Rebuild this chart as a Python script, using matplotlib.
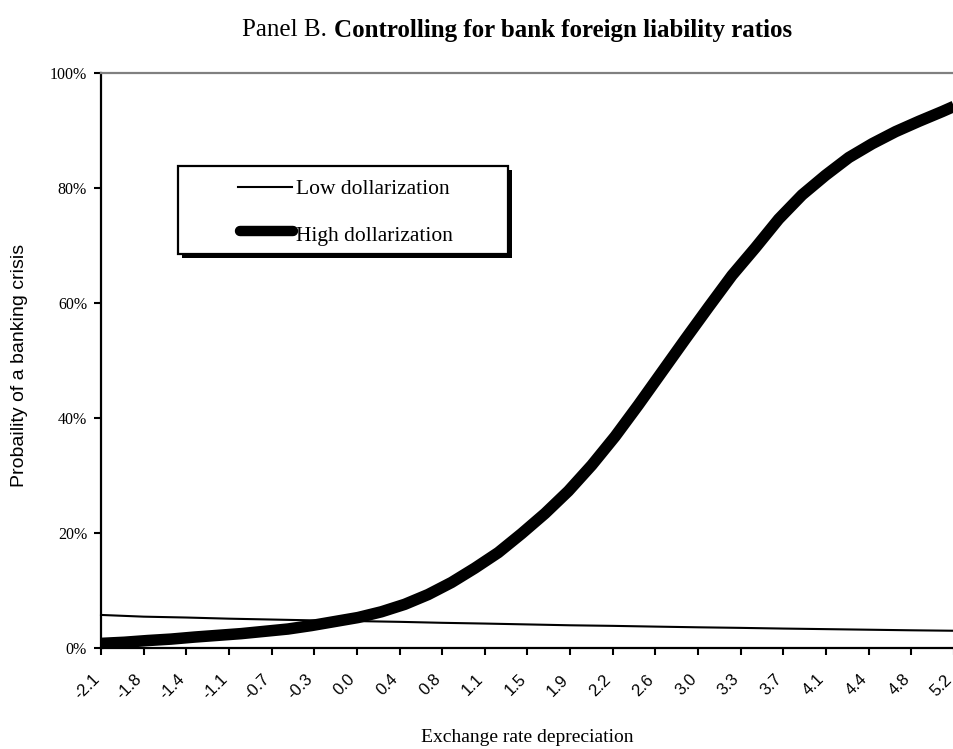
import matplotlib
matplotlib.use("Agg")
import matplotlib.pyplot as plt
from matplotlib.lines import Line2D
from matplotlib.patches import Rectangle
from matplotlib.transforms import ScaledTranslation
import numpy as np

# ---------------- data ----------------
title_regular = "Panel B. "
title_bold = "Controlling for bank foreign liability ratios"
x_label = "Exchange rate depreciation"
y_label = "Probaility of a banking crisis"

x_tick_labels = ["-2.1", "-1.8", "-1.4", "-1.1", "-0.7", "-0.3", "0.0", "0.4", "0.8", "1.1",
                 "1.5", "1.9", "2.2", "2.6", "3.0", "3.3", "3.7", "4.1", "4.4", "4.8", "5.2"]
y_ticks = [0.0, 0.2, 0.4, 0.6, 0.8, 1.0]
y_tick_labels = ["0%", "20%", "40%", "60%", "80%", "100%"]

# Low dollarization (read at each tick position)
low_x = [-2.1, -1.735, -1.37, -1.005, -0.64, -0.275, 0.09, 0.455, 0.82, 1.185, 1.55,
         1.915, 2.28, 2.645, 3.01, 3.375, 3.74, 4.105, 4.47, 4.835, 5.2]
low_y = [0.0575, 0.0545, 0.053, 0.051, 0.0495, 0.048, 0.0468, 0.0455, 0.0438, 0.0425, 0.041,
         0.0395, 0.0385, 0.0372, 0.036, 0.035, 0.0338, 0.0328, 0.0318, 0.0308, 0.030]

# High dollarization
high_x = [-2.1, -1.9, -1.7, -1.5, -1.3, -1.1, -0.9, -0.7, -0.5, -0.3, -0.1, 0.1, 0.3, 0.5,
          0.7, 0.9, 1.1, 1.3, 1.5, 1.7, 1.9, 2.1, 2.3, 2.5, 2.7, 2.9, 3.1, 3.3, 3.5, 3.7,
          3.9, 4.1, 4.3, 4.5, 4.7, 4.9, 5.1, 5.2]
high_y = [0.008, 0.010, 0.013, 0.0155, 0.019, 0.022, 0.025, 0.029, 0.033, 0.039, 0.046,
          0.053, 0.063, 0.076, 0.093, 0.114, 0.139, 0.166, 0.199, 0.234, 0.273, 0.318,
          0.368, 0.423, 0.480, 0.537, 0.593, 0.648, 0.696, 0.746, 0.788, 0.822, 0.853,
          0.877, 0.898, 0.916, 0.933, 0.942]

series_names = ["Low dollarization", "High dollarization"]

# ---------------- figure ----------------
W, H = 954, 749
fig = plt.figure(figsize=(W / 100, H / 100), dpi=100)
fig.patch.set_facecolor("white")

def fx(px):
    return px / W

def fy(py):
    return 1 - py / H

ax = fig.add_axes([fx(101), fy(648), fx(954) - fx(101), fy(73) - fy(648)])
ax.set_xlim(-2.1, 5.2)
ax.set_ylim(0, 1.0)

ax.plot(low_x, low_y, color="black", lw=1.5, clip_on=False, zorder=3)
ax.plot(high_x, high_y, color="black", lw=8.3, solid_capstyle="butt",
        solid_joinstyle="round", clip_on=False, zorder=4)

# axes styling
ax.spines["right"].set_visible(False)
ax.spines["top"].set_color("#808080")
ax.spines["top"].set_linewidth(1.6)
ax.spines["left"].set_linewidth(1.6)
ax.spines["bottom"].set_linewidth(1.6)

ax.set_yticks(y_ticks)
ax.set_yticklabels(y_tick_labels, fontfamily="Liberation Serif", fontsize=11.5)
xt = np.linspace(-2.1, 5.2, len(x_tick_labels))
ax.set_xticks(xt)
ax.set_xticklabels([])
ax.tick_params(axis="y", direction="out", length=5, width=1.5, pad=5)
ax.tick_params(axis="x", direction="out", length=5, width=1.5)

# rotated category labels, right end placed just left of each tick
lab_tr = ax.get_xaxis_transform() + ScaledTranslation(-0.04, -0.29, fig.dpi_scale_trans)
for xv, s in zip(xt, x_tick_labels):
    ax.text(xv, 0, s, transform=lab_tr, fontfamily="Liberation Sans", fontsize=12,
            rotation=45, ha="right", va="center", rotation_mode="anchor", clip_on=False)

# labels
fig.text(fx(527), fy(737), x_label, fontfamily="Liberation Serif", fontsize=14,
         ha="center", va="center")
fig.text(fx(20), fy(365), y_label, fontfamily="Liberation Sans", fontsize=14,
         ha="center", va="center", rotation=90)

# title (regular + bold parts), centred as a whole
fig.canvas.draw()
r = fig.canvas.get_renderer()
t1 = fig.text(0, fy(30), title_regular, fontfamily="Liberation Serif", fontsize=18,
              ha="left", va="center")
t2 = fig.text(0, fy(30), title_bold, fontfamily="Liberation Serif", fontsize=18,
              fontweight="bold", ha="left", va="center")
w1 = t1.get_window_extent(renderer=r).width
w2 = t2.get_window_extent(renderer=r).width
x0 = 517 - (w1 + w2) / 2
t1.set_x(fx(x0))
t2.set_x(fx(x0 + w1))

# legend box with shadow
shadow = Rectangle((fx(182), fy(258)), fx(512) - fx(182), fy(170) - fy(258),
                   transform=fig.transFigure, facecolor="black", edgecolor="black", lw=0)
box = Rectangle((fx(178), fy(254)), fx(508) - fx(178), fy(166) - fy(254),
                transform=fig.transFigure, facecolor="white", edgecolor="black", lw=1.6)
fig.patches.extend([shadow, box])
fig.lines.append(Line2D([fx(238), fx(292)], [fy(187), fy(187)], transform=fig.transFigure,
                        color="black", lw=1.5))
fig.lines.append(Line2D([fx(240), fx(293)], [fy(231), fy(231)], transform=fig.transFigure,
                        color="black", lw=7.5, solid_capstyle="round"))
fig.text(fx(296), fy(190), series_names[0], fontfamily="Liberation Serif", fontsize=15.5,
         ha="left", va="center")
fig.text(fx(296), fy(237), series_names[1], fontfamily="Liberation Serif", fontsize=15.5,
         ha="left", va="center")

fig.savefig("out.png", dpi=100, facecolor="white")
